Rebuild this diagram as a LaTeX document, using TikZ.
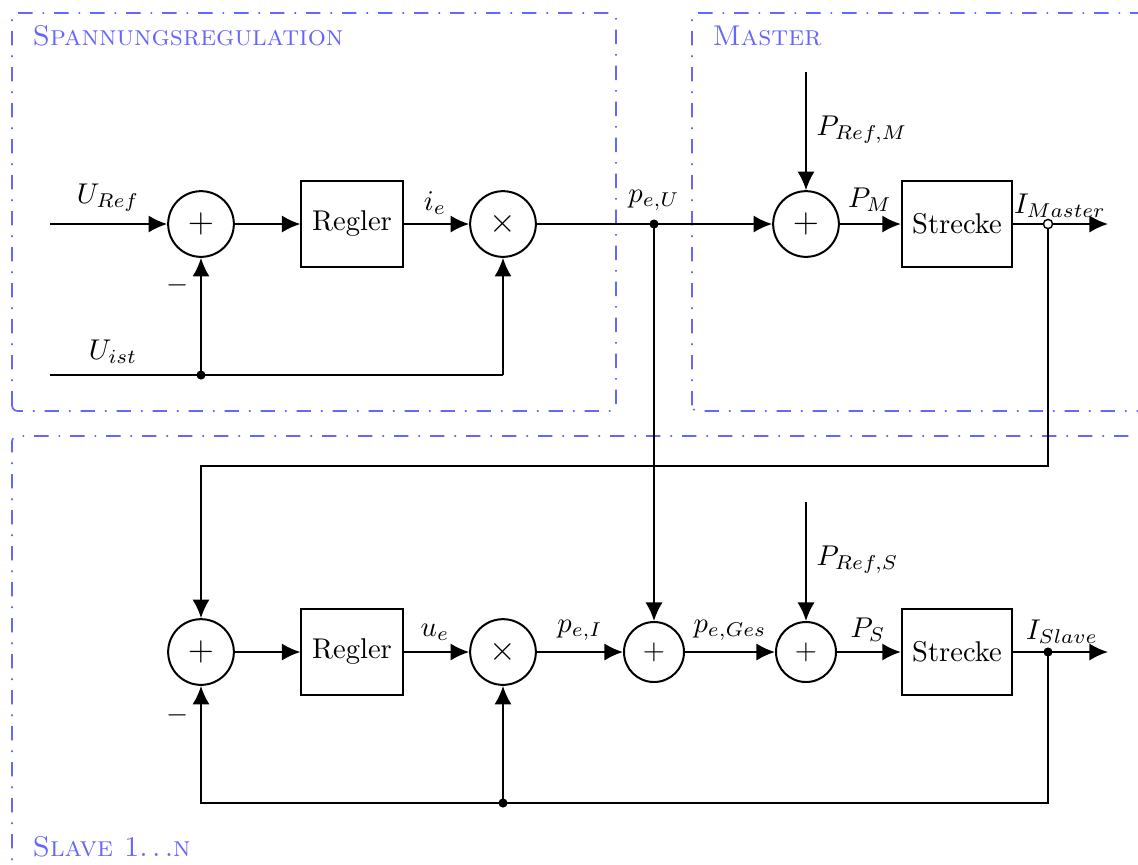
\documentclass[tikz,border=0pt]{standalone}
\usetikzlibrary{arrows.meta}
\begin{document}
\begin{tikzpicture}[x=0.35pt,y=-0.35pt,
  wire/.style={line width=0.7pt,-{Latex[length=6.5pt,width=6pt]}},
  plain/.style={line width=0.7pt},
  sumc/.style={draw,circle,line width=0.7pt,minimum size=23pt,inner sep=0pt,font=\large},
  sumsmall/.style={draw,circle,line width=0.7pt,minimum size=21pt,inner sep=0pt},
  blk/.style={draw,rectangle,line width=0.7pt,minimum width=35.4pt,minimum height=30.1pt,inner sep=0pt},
  wideblk/.style={blk,minimum width=38.6pt},
  grp/.style={draw=blue!60,line width=0.6pt,rounded corners=2pt,dash pattern=on 5pt off 3.5pt on 0.6pt off 3.5pt},
  grplabel/.style={text=blue!60,anchor=base west,font=\scshape,inner sep=0pt},
  dotj/.style={circle,fill,inner sep=0pt,minimum size=3.2pt},
  odotj/.style={circle,draw,fill=white,line width=0.5pt,inner sep=0pt,minimum size=3.2pt},
  lbl/.style={inner sep=0pt}]
\useasboundingbox (0,0) rectangle (1138,864);
% groups
\draw[grp] (12,411) rectangle (616,13);
\draw[grp] (692,411) rectangle (1160,13);
\draw[grp] (12,890) rectangle (1160,436);
\node[grplabel] (gl1) at (32,45) {Spannungsregulation};
\node[grplabel] (gl2) at (712,45) {Master};
\node[grplabel] (gl3) at (32,856) {Slave 1$\ldots$n};
% top row
\coordinate (inRef) at (50,224);
\node[sumc] (s1) at (201,224) {$+$};
\node[blk] (r1) at (352,224) {Regler};
\node[sumc] (m1) at (503,224) {$\times$};
\node[dotj] (j1) at (654,224) {};
\node[sumc] (sm) at (806,224) {$+$};
\node[wideblk] (pm) at (957,224) {Strecke};
\coordinate (jm) at (1048,224);
\coordinate (outm) at (1108,224);
\coordinate (refm) at (806,72);
\coordinate (inIst) at (50,375);
\node[dotj] (j2) at (201,375) {};
\coordinate (c3) at (503,375);
\coordinate (d1) at (1048,466);
\coordinate (d2) at (201,466);
% slave row
\node[sumc] (s2) at (201,652) {$+$};
\node[blk] (r2) at (352,652) {Regler};
\node[sumc] (m2) at (503,652) {$\times$};
\node[sumsmall] (a2) at (654,652) {$+$};
\node[sumsmall] (ss) at (806,652) {$+$};
\node[wideblk] (ps) at (957,652) {Strecke};
\node[dotj] (js) at (1048,652) {};
\coordinate (outs) at (1108,652);
\coordinate (refs) at (806,502);
\coordinate (f1) at (1048,803);
\coordinate (f2) at (201,803);
\node[dotj] (j3) at (503,803) {};
% connectors top
\draw[wire] (inRef) -- (s1);
\draw[wire] (s1) -- (r1);
\draw[wire] (r1) -- (m1);
\draw[plain] (m1) -- (j1.center);
\draw[wire] (j1.center) -- (sm);
\draw[wire] (refm) -- (sm);
\draw[wire] (sm) -- (pm);
\draw[wire] (pm) -- (outm);
\draw[plain] (inIst) -- (c3);
\draw[wire] (c3) -- (m1);
\draw[wire] (j2.center) -- (s1);
\draw[wire] (jm) -- (d1) -- (d2) -- (s2);
\draw[wire] (j1.center) -- (a2);
\node[odotj] (jmo) at (jm) {};
% connectors slave
\draw[wire] (s2) -- (r2);
\draw[wire] (r2) -- (m2);
\draw[wire] (m2) -- (a2);
\draw[wire] (a2) -- (ss);
\draw[wire] (refs) -- (ss);
\draw[wire] (ss) -- (ps);
\draw[wire] (ps) -- (outs);
\draw[wire] (js.center) -- (f1) -- (f2) -- (s2);
\draw[wire] (j3.center) -- (m2);
% labels
\node[lbl] (lUref) at (108,198) {$U_{Ref}$};
\node[lbl] (lUist) at (113,352) {$U_{ist}$};
\node[lbl] (lm1) at (178,285) {$-$};
\node[lbl] (lm2) at (178,715) {$-$};
\node[lbl] (lie) at (435,203) {$i_e$};
\node[lbl] (lpeU) at (654,200) {$p_{e,U}$};
\node[lbl,anchor=west] (lPrefM) at (816,130) {$P_{Ref,M}$};
\node[lbl] (lPM) at (870,200) {$P_M$};
\node[lbl] (lIM) at (1060,206) {$I_{Master}$};
\node[lbl] (lue) at (435,632) {$u_e$};
\node[lbl] (lpeI) at (580,630) {$p_{e,I}$};
\node[lbl] (lpeG) at (730,630) {$p_{e,Ges}$};
\node[lbl,anchor=west] (lPrefS) at (816,560) {$P_{Ref,S}$};
\node[lbl] (lPS) at (868,630) {$P_S$};
\node[lbl] (lIS) at (1062,632) {$I_{Slave}$};
\end{tikzpicture}
\end{document}
